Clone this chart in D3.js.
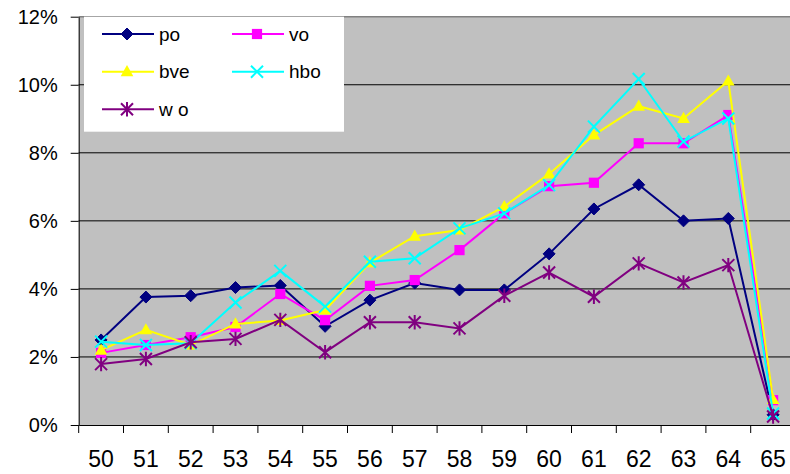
<!DOCTYPE html>
<html><head><meta charset="utf-8">
<script src="https://cdn.jsdelivr.net/npm/d3@7"></script>
<style>body{margin:0;background:#fff;overflow:hidden}svg{display:block}text{font-family:"Liberation Sans",Arial,sans-serif}</style>
</head><body>
<svg id="c" width="790" height="474"></svg>
<script>
const categories = ["50","51","52","53","54","55","56","57","58","59","60","61","62","63","64","65"];
const po  = [2.5, 3.76, 3.8, 4.04, 4.1, 2.9, 3.67, 4.17, 3.97, 3.97, 5.03, 6.35, 7.06, 6.0, 6.07, 0.3];
const vo  = [2.12, 2.35, 2.58, 2.88, 3.85, 3.08, 4.09, 4.26, 5.14, 6.22, 7.02, 7.12, 8.28, 8.28, 9.11, 0.73];
const bve = [2.2, 2.8, 2.35, 2.97, 3.07, 3.38, 4.77, 5.55, 5.73, 6.42, 7.38, 8.52, 9.37, 9.01, 10.11, 0.75];
const hbo = [2.45, 2.35, 2.4, 3.6, 4.53, 3.48, 4.8, 4.9, 5.78, 6.22, 7.05, 8.77, 10.17, 8.33, 9.01, 0.34];
const wo  = [1.79, 1.94, 2.43, 2.53, 3.09, 2.14, 3.02, 3.02, 2.84, 3.8, 4.48, 3.77, 4.75, 4.19, 4.7, 0.25];
const yTicks = [0, 2, 4, 6, 8, 10, 12];
const seriesNames = ["po", "vo", "bve", "hbo", "w o"];

const series = [
  {name: seriesNames[0], values: po,  color: "#000080", marker: "diamond"},
  {name: seriesNames[1], values: vo,  color: "#FF00FF", marker: "square"},
  {name: seriesNames[2], values: bve, color: "#FFFF00", marker: "triangle"},
  {name: seriesNames[3], values: hbo, color: "#00FFFF", marker: "x"},
  {name: seriesNames[4], values: wo,  color: "#800080", marker: "star"}
];

const svg = d3.select("#c");
const L = 78.7, R = 795.5, T = 16.7, B = 425;
const x = d3.scaleBand().domain(categories).range([L, R]);
const y = d3.scaleLinear().domain([0, 12]).range([B, T]);

svg.append("rect").attr("x", L).attr("y", T).attr("width", R - L).attr("height", B - T).attr("fill", "#C0C0C0");
svg.append("line").attr("x1", L).attr("x2", R).attr("y1", T).attr("y2", T).attr("stroke", "#808080").attr("stroke-width", 1.5);

// gridlines
svg.append("g").selectAll("line").data(yTicks.filter(d => d > 0 && d < 12)).join("line")
  .attr("x1", L).attr("x2", R).attr("y1", d => y(d)).attr("y2", d => y(d))
  .attr("stroke", "#000").attr("stroke-width", 1);

// y axis
const yAxis = d3.axisLeft(y).tickValues(yTicks).tickFormat(d => d + "%").tickSizeInner(8).tickSizeOuter(0).tickPadding(13);
const gy = svg.append("g").attr("transform", `translate(${L},0)`).call(yAxis);
gy.select(".domain").attr("stroke", "#000");
gy.selectAll(".tick line").attr("stroke", "#000");
gy.selectAll("text").attr("font-size", 20).attr("fill", "#000").attr("font-family", "Liberation Sans, Arial, sans-serif");

// x axis
const xAxis = d3.axisBottom(x).tickSize(0).tickPadding(26);
const gx = svg.append("g").attr("transform", `translate(0,${B})`).call(xAxis);
gx.select(".domain").attr("stroke", "#000");
gx.selectAll("text").attr("font-size", 23).attr("fill", "#000").attr("font-family", "Liberation Sans, Arial, sans-serif");
// category boundary ticks
const bounds = categories.map(c => x(c));
gx.append("g").selectAll("line").data(bounds).join("line")
  .attr("x1", d => d).attr("x2", d => d).attr("y1", 0).attr("y2", 8).attr("stroke", "#000");

function drawMarker(g, type, color, s) {
  if (type === "diamond") {
    g.append("path").attr("d", `M0,${-s}L${s},0L0,${s}L${-s},0Z`).attr("fill", color).attr("stroke", color);
  } else if (type === "square") {
    g.append("rect").attr("x", -s * 0.85).attr("y", -s * 0.85).attr("width", s * 1.7).attr("height", s * 1.7).attr("fill", color);
  } else if (type === "triangle") {
    g.append("path").attr("d", `M0,${-s * 1.1}L${s * 1.05},${s * 0.75}L${-s * 1.05},${s * 0.75}Z`).attr("fill", color);
  } else if (type === "x") {
    g.append("path").attr("d", `M${-s},${-s}L${s},${s}M${-s},${s}L${s},${-s}`).attr("stroke", color).attr("stroke-width", 2);
  } else if (type === "star") {
    g.append("path").attr("d", `M${-s},${-s}L${s},${s}M${-s},${s}L${s},${-s}M0,${-s * 1.2}L0,${s * 1.2}`).attr("stroke", color).attr("stroke-width", 2);
  }
}

const line = d3.line().x((d, i) => x(categories[i]) + x.bandwidth() / 2).y(d => y(d));
series.forEach(s => {
  svg.append("path").datum(s.values).attr("d", line).attr("fill", "none").attr("stroke", s.color).attr("stroke-width", 2);
  s.values.forEach((v, i) => {
    const g = svg.append("g").attr("transform", `translate(${x(categories[i]) + x.bandwidth() / 2},${y(v)})`);
    drawMarker(g, s.marker, s.color, 6);
  });
});

// legend
const lg = svg.append("g");
lg.append("rect").attr("x", 84).attr("y", 16.7).attr("width", 260).attr("height", 115).attr("fill", "#fff");
const pos = [[102, 34], [232, 34], [102, 71.7], [232, 71.7], [102, 109.3]];
series.forEach((s, i) => {
  const [lx, ly] = pos[i];
  lg.append("line").attr("x1", lx).attr("x2", lx + 52).attr("y1", ly).attr("y2", ly).attr("stroke", s.color).attr("stroke-width", 2);
  const g = lg.append("g").attr("transform", `translate(${lx + 25},${ly})`);
  drawMarker(g, s.marker, s.color, 6);
  lg.append("text").attr("x", lx + 57).attr("y", ly).attr("dy", "0.35em").attr("font-size", 19).attr("fill", "#000").text(s.name);
});
</script>
</body></html>
